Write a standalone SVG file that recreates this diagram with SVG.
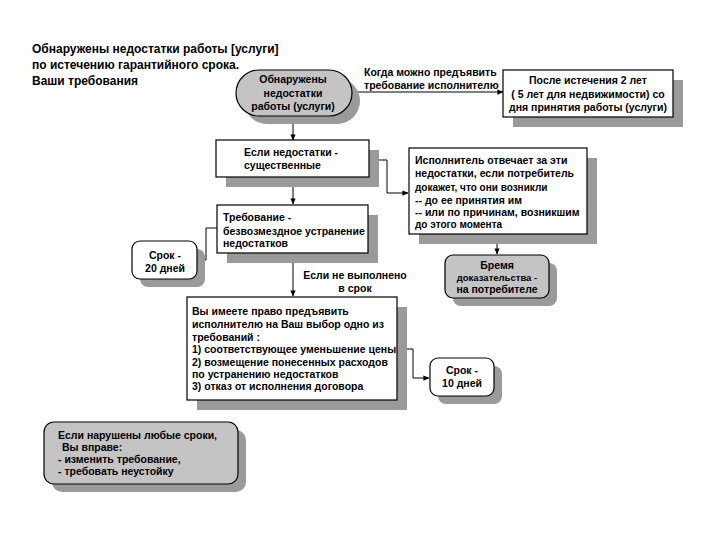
<svg xmlns="http://www.w3.org/2000/svg" width="720" height="540" viewBox="0 0 720 540">
<defs>
<style>
text{font-family:"Liberation Sans",Arial,sans-serif;font-weight:bold;fill:#000}
.t{font-size:12px}
.n{font-size:10.5px}
.m{font-size:10px}
.s{font-size:9.5px}
.c{text-anchor:middle}
.box{fill:#fff;stroke:#000;stroke-width:1.2}
.gbox{fill:#c4c4c4;stroke:#000;stroke-width:1.2}
.sh{fill:#9a9a9a}
.ln{fill:none;stroke:#000;stroke-width:1}
</style>
<marker id="ar" viewBox="0 0 8 8" refX="7.5" refY="4" markerWidth="6" markerHeight="6" orient="auto" markerUnits="userSpaceOnUse">
<path d="M0,0.5 L8,4 L0,7.5 z" fill="#000"/>
</marker>
</defs>
<rect width="720" height="540" fill="#fff"/>
<g id="title">
<text class="t" x="32" y="53">Обнаружены недостатки работы [услуги]</text>
<text class="t" x="32" y="69">по истечению гарантийного срока.</text>
<text class="t" x="32" y="85">Ваши требования</text>
</g>
<g id="connectors">
<line class="ln" x1="352" y1="92" x2="503" y2="92" marker-end="url(#ar)"/>
<line class="ln" x1="293" y1="116" x2="293" y2="140" marker-end="url(#ar)"/>
<polyline class="ln" points="369,160 387,160 387,193 408,193" marker-end="url(#ar)"/>
<line class="ln" x1="293" y1="177" x2="293" y2="204" marker-end="url(#ar)"/>
<line class="ln" x1="497" y1="234" x2="497" y2="254" marker-end="url(#ar)"/>
<polyline class="ln" points="217,228 206,228 206,260 198,260" marker-end="url(#ar)"/>
<line class="ln" x1="293" y1="253" x2="293" y2="296" marker-end="url(#ar)"/>
<polyline class="ln" points="397,349 413,349 413,378 429,378" marker-end="url(#ar)"/>
<text class="n" x="364" y="76">Когда можно предъявить</text>
<text class="n" x="364" y="89">требование исполнителю</text>
<text class="n c" x="355" y="279">Если не выполнено</text>
<text class="n c" x="355" y="292">в срок</text>
</g>
<g id="n1">
<rect class="sh" x="244" y="78" width="116" height="46" rx="23"/>
<rect class="gbox" x="236" y="70" width="116" height="46" rx="23"/>
<text class="n c" x="293" y="83">Обнаружены</text>
<text class="n c" x="293" y="97">недостатки</text>
<text class="n c" x="293" y="110">работы (услуги)</text>
</g>
<g id="n2">
<rect class="sh" x="513" y="80" width="170" height="47"/>
<rect class="box" x="503" y="70" width="170" height="47"/>
<text class="n c" x="588" y="84">После истечения 2 лет</text>
<text class="n c" x="588" y="98">( 5 лет для недвижимости) со</text>
<text class="n c" x="588" y="111">дня принятия работы (услуги)</text>
</g>
<g id="n3">
<rect class="sh" x="226" y="150" width="153" height="37"/>
<rect class="box" x="216" y="140" width="153" height="37"/>
<text class="n" x="244" y="156">Если недостатки -</text>
<text class="n" x="244" y="169">существенные</text>
</g>
<g id="n4">
<rect class="sh" x="419" y="158" width="178" height="86"/>
<rect class="box" x="409" y="148" width="178" height="86"/>
<text class="n" x="415" y="164">Исполнитель отвечает за эти</text>
<text class="n" x="415" y="177">недостатки, если потребитель</text>
<text class="m" x="415" y="191">докажет, что они возникли</text>
<text class="n" x="415" y="204">-- до ее принятия им</text>
<text class="n" x="415" y="216">-- или по причинам, возникшим</text>
<text class="m" x="415" y="228">до этого момента</text>
</g>
<g id="n5">
<rect class="sh" x="453" y="263" width="104" height="43" rx="8"/>
<rect class="gbox" x="445" y="255" width="104" height="43" rx="8"/>
<text class="n c" x="497" y="269">Бремя</text>
<text class="s c" x="497" y="281">доказательства -</text>
<text class="n c" x="497" y="293">на потребителе</text>
</g>
<g id="n6">
<rect class="sh" x="227" y="215" width="151" height="48"/>
<rect class="box" x="217" y="205" width="151" height="48"/>
<text class="n" x="223" y="221">Требование -</text>
<text class="n" x="223" y="235">безвозмездное устранение</text>
<text class="n" x="223" y="247">недостатков</text>
</g>
<g id="n7">
<rect class="sh" x="140" y="249" width="65" height="38" rx="8"/>
<rect class="box" x="132" y="241" width="65" height="38" rx="8"/>
<text class="n c" x="165" y="259">Срок -</text>
<text class="n c" x="165" y="272">20 дней</text>
</g>
<g id="n8">
<rect class="sh" x="197" y="307" width="210" height="103"/>
<rect class="box" x="187" y="297" width="210" height="103"/>
<text class="n" x="192" y="315">Вы имеете право предъявить</text>
<text class="n" x="192" y="328">исполнителю на Ваш выбор одно из</text>
<text class="n" x="192" y="341">требований :</text>
<text class="n" x="192" y="353">1) соответствующее уменьшение цены</text>
<text class="n" x="192" y="366">2) возмещение понесенных расходов</text>
<text class="n" x="192" y="378">по устранению недостатков</text>
<text class="n" x="192" y="390">3) отказ от исполнения договора</text>
</g>
<g id="n9">
<rect class="sh" x="438" y="366" width="64" height="38" rx="8"/>
<rect class="box" x="430" y="358" width="64" height="38" rx="8"/>
<text class="n c" x="462" y="374">Срок -</text>
<text class="n c" x="462" y="387">10 дней</text>
</g>
<g id="n10">
<rect class="sh" x="52" y="430" width="194" height="62" rx="10"/>
<rect class="gbox" x="44" y="422" width="194" height="62" rx="10"/>
<text class="n" x="58" y="439">Если нарушены  любые сроки,</text>
<text class="n" x="62" y="451">Вы вправе:</text>
<text class="n" x="58" y="463">- изменить требование,</text>
<text class="n" x="58" y="475">- требовать неустойку</text>
</g>
</svg>
